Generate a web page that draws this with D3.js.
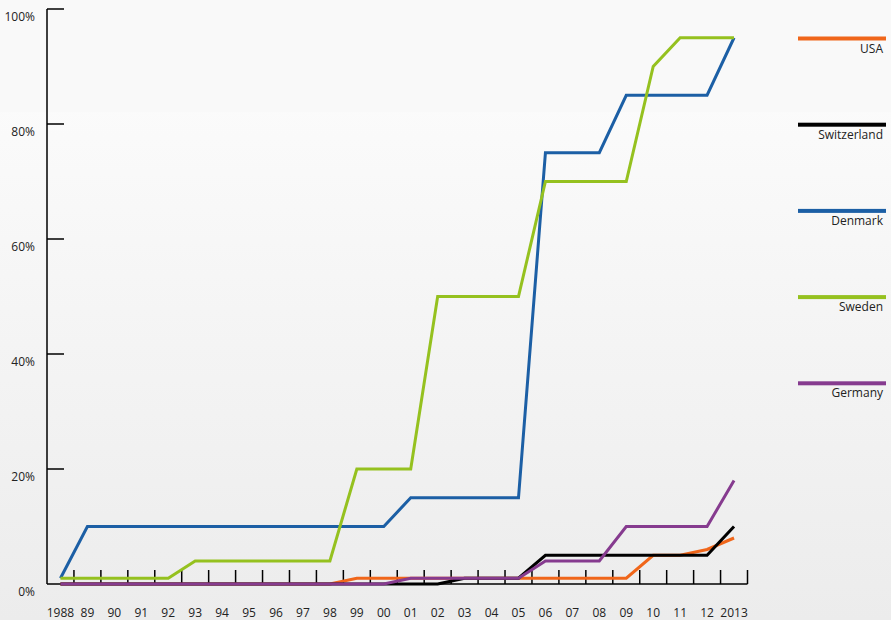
<!DOCTYPE html>
<html>
<head>
<meta charset="utf-8">
<script src="https://cdn.jsdelivr.net/npm/d3@7"></script>
<style>
  body { margin: 0; }
  svg { display: block; font-family: "Open Sans", sans-serif; }
</style>
</head>
<body>
<div id="chart"></div>
<script>
const years = d3.range(1988, 2014);
const yearLabels = years.map(y => (y === 1988 || y === 2013) ? String(y) : String(y).slice(2));
const yTicks = [0, 20, 40, 60, 80, 100];

const countries = ["USA", "Switzerland", "Denmark", "Sweden", "Germany"];
const colors = ["#f0661a", "#000000", "#1c5fa5", "#95c11f", "#863b8f"];

const usa         = [0,0,0,0,0,0,0,0,0,0,0,1,1,1,1,1,1,1,1,1,1,1,5,5,6,8];
const switzerland = [0,0,0,0,0,0,0,0,0,0,0,0,0,0,0,1,1,1,5,5,5,5,5,5,5,10];
const denmark     = [1,10,10,10,10,10,10,10,10,10,10,10,10,15,15,15,15,15,75,75,75,85,85,85,85,95];
const sweden      = [1,1,1,1,1,4,4,4,4,4,4,20,20,20,50,50,50,50,70,70,70,70,90,95,95,95];
const germany     = [0,0,0,0,0,0,0,0,0,0,0,0,0,1,1,1,1,1,4,4,4,10,10,10,10,18];
const series = [usa, switzerland, denmark, sweden, germany];

const width = 891, height = 620;

const svg = d3.select("#chart").append("svg")
  .attr("width", width)
  .attr("height", height);

// background
const defs = svg.append("defs");
const grad = defs.append("linearGradient")
  .attr("id", "bg").attr("x1", 0).attr("y1", 0).attr("x2", 0).attr("y2", 1);
grad.append("stop").attr("offset", "0%").attr("stop-color", "#fefefe");
grad.append("stop").attr("offset", "100%").attr("stop-color", "#ececec");
svg.append("rect").attr("width", width).attr("height", height).attr("fill", "url(#bg)");
svg.append("rect").attr("width", width).attr("height", 112).attr("fill", "#f9f9f9");

const x = d3.scaleBand().domain(years).range([47, 747.5]).padding(0);
const y = d3.scaleLinear().domain([0, 100]).range([584, 9]);

// y axis
const yAxis = svg.append("g");
yAxis.append("line")
  .attr("x1", 47).attr("x2", 47).attr("y1", y(100)).attr("y2", y(0))
  .attr("stroke", "#000").attr("stroke-width", 1.5);
yAxis.selectAll("line.tick")
  .data(yTicks.filter(d => d > 0))
  .join("line")
  .attr("class", "tick")
  .attr("x1", 47).attr("x2", 64)
  .attr("y1", d => y(d)).attr("y2", d => y(d))
  .attr("stroke", "#000").attr("stroke-width", 1.5);
yAxis.selectAll("text")
  .data(yTicks)
  .join("text")
  .attr("x", 35)
  .attr("y", d => y(d) + 12)
  .attr("text-anchor", "end")
  .attr("font-size", 12)
  .attr("fill", "#222")
  .text(d => d + "%");

// x axis
const xAxis = svg.append("g");
xAxis.append("line")
  .attr("x1", 47).attr("x2", 747.5).attr("y1", y(0)).attr("y2", y(0))
  .attr("stroke", "#000").attr("stroke-width", 1.5);
xAxis.selectAll("line.tick")
  .data(years)
  .join("line")
  .attr("class", "tick")
  .attr("x1", d => x(d) + x.bandwidth()).attr("x2", d => x(d) + x.bandwidth())
  .attr("y1", y(0)).attr("y2", y(0) - 14)
  .attr("stroke", "#000").attr("stroke-width", 1.5);
xAxis.selectAll("text")
  .data(years)
  .join("text")
  .attr("x", d => x(d) + x.bandwidth() / 2)
  .attr("y", 617)
  .attr("text-anchor", "middle")
  .attr("font-size", 12)
  .attr("fill", "#222")
  .text((d, i) => yearLabels[i]);

// lines
const line = d3.line()
  .x((d, i) => x(years[i]) + x.bandwidth() / 2)
  .y(d => y(d));

svg.append("g")
  .selectAll("path")
  .data(series)
  .join("path")
  .attr("d", line)
  .attr("fill", "none")
  .attr("stroke", (d, i) => colors[i])
  .attr("stroke-width", 3)
  .attr("stroke-linejoin", "miter");

// legend
const legend = svg.append("g")
  .selectAll("g")
  .data(countries)
  .join("g")
  .attr("transform", (d, i) => `translate(0, ${38.5 + i * 86.2})`);
legend.append("rect")
  .attr("x", 798).attr("y", -2).attr("width", 88).attr("height", 4)
  .attr("fill", (d, i) => colors[i]);
legend.append("text")
  .attr("x", 883).attr("y", 14)
  .attr("text-anchor", "end")
  .attr("font-size", 12)
  .attr("fill", "#222")
  .text(d => d);
</script>
</body>
</html>
